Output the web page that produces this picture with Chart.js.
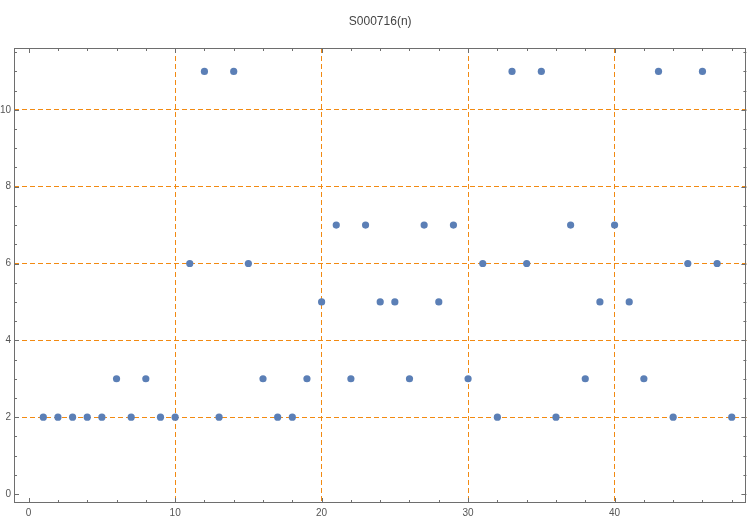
<!DOCTYPE html>
<html>
<head>
<meta charset="utf-8">
<script src="https://cdn.jsdelivr.net/npm/chart.js@4"></script>
<style>
  html, body { margin: 0; padding: 0; background: #fff; }
  #wrap { width: 750px; height: 520px; }
</style>
</head>
<body>
<div id="wrap"><canvas id="chart" width="750" height="520"></canvas></div>
<script>
// sequence index and values
const nValues = [1, 2, 3, 4, 5, 6, 7, 8, 9, 10, 11, 12, 13, 14, 15, 16, 17, 18, 19, 20, 21, 22, 23, 24,
                 25, 26, 27, 28, 29, 30, 31, 32, 33, 34, 35, 36, 37, 38, 39, 40, 41, 42, 43, 44, 45, 46, 47, 48];
const seqValues = [2, 2, 2, 2, 2, 3, 2, 3, 2, 2, 6, 11, 2, 11, 6, 3, 2, 2, 3, 5, 7, 3, 7, 5,
                   5, 3, 7, 5, 7, 3, 6, 2, 11, 6, 11, 2, 7, 3, 5, 7, 5, 3, 11, 2, 6, 11, 6, 2];

const xTickLabels = [0, 10, 20, 30, 40];
const yTickLabels = [0, 2, 4, 6, 8, 10];
const xGridLines = [10, 20, 30, 40];
const yGridLines = [2, 4, 6, 8, 10];

const titleText = 'S000716(n)';
const gridColor = '#f28a12';
const frameColor = '#6e6e6e';
const labelColor = '#555555';
const fontFamily = "'Liberation Sans', Arial, sans-serif";

// frame box with inward ticks on all four sides, plus the title
const framePlugin = {
  id: 'frame',
  afterDatasetsDraw(chart) {
    const { ctx, chartArea: a, scales } = chart;
    const xs = scales.x, ys = scales.y;
    ctx.save();
    ctx.strokeStyle = frameColor;
    ctx.lineWidth = 1;
    ctx.strokeRect(Math.round(a.left) + 0.5, Math.round(a.top) + 0.5,
                   Math.round(a.right - a.left) - 1, Math.round(a.bottom - a.top) - 1);

    ctx.beginPath();
    for (let v = 0; v <= 48; v += 2) {
      const px = Math.round(xs.getPixelForValue(v)) + 0.5;
      const len = xTickLabels.includes(v) ? 5 : 3;
      ctx.moveTo(px, a.bottom); ctx.lineTo(px, a.bottom - len);
      ctx.moveTo(px, a.top); ctx.lineTo(px, a.top + len);
    }
    for (let v = 0; v <= 11.5; v += 0.5) {
      const py = Math.round(ys.getPixelForValue(v)) + 0.5;
      const len = yTickLabels.includes(v) ? 5 : 3;
      ctx.moveTo(a.left, py); ctx.lineTo(a.left + len, py);
      ctx.moveTo(a.right, py); ctx.lineTo(a.right - len, py);
    }
    ctx.stroke();

    ctx.fillStyle = '#444';
    ctx.font = '12px ' + fontFamily;
    ctx.textAlign = 'center';
    ctx.textBaseline = 'middle';
    ctx.fillText(titleText, (a.left + a.right) / 2, 22);
    ctx.restore();
  }
};

const ctx = document.getElementById('chart').getContext('2d');
new Chart(ctx, {
  type: 'scatter',
  data: {
    datasets: [{
      label: titleText,
      data: nValues.map((n, i) => ({ x: n, y: seqValues[i] })),
      backgroundColor: '#5b7fb6',
      borderColor: '#5b7fb6',
      pointRadius: 3.6,
      pointHoverRadius: 3.6,
      borderWidth: 0
    }]
  },
  options: {
    responsive: false,
    animation: false,
    layout: { padding: { top: 48, right: 2, left: 0, bottom: 0 } },
    plugins: {
      legend: { display: false },
      title: { display: false },
      tooltip: { enabled: false }
    },
    scales: {
      x: {
        type: 'linear',
        min: -1,
        max: 49,
        afterFit(scale) { scale.height = 17; },
        afterBuildTicks(scale) {
          scale.ticks = xTickLabels.map(v => ({ value: v }));
        },
        ticks: {
          autoSkip: false,
          maxRotation: 0,
          padding: 4,
          color: labelColor,
          font: { family: fontFamily, size: 10 },
          callback: v => String(v)
        },
        border: { display: false, dash: [5, 3] },
        grid: {
          drawTicks: false,
          lineWidth: 1,
          color: c => xGridLines.includes(c.tick && c.tick.value) ? gridColor : 'rgba(0,0,0,0)'
        }
      },
      y: {
        type: 'linear',
        min: -0.234,
        max: 11.61,
        afterFit(scale) { scale.width = 14; },
        afterBuildTicks(scale) {
          scale.ticks = yTickLabels.map(v => ({ value: v }));
        },
        ticks: {
          autoSkip: false,
          padding: 3,
          color: labelColor,
          font: { family: fontFamily, size: 10 },
          callback: v => String(v)
        },
        border: { display: false, dash: [5, 3] },
        grid: {
          drawTicks: false,
          lineWidth: 1,
          color: c => yGridLines.includes(c.tick && c.tick.value) ? gridColor : 'rgba(0,0,0,0)'
        }
      }
    }
  },
  plugins: [framePlugin]
});
</script>
</body>
</html>
